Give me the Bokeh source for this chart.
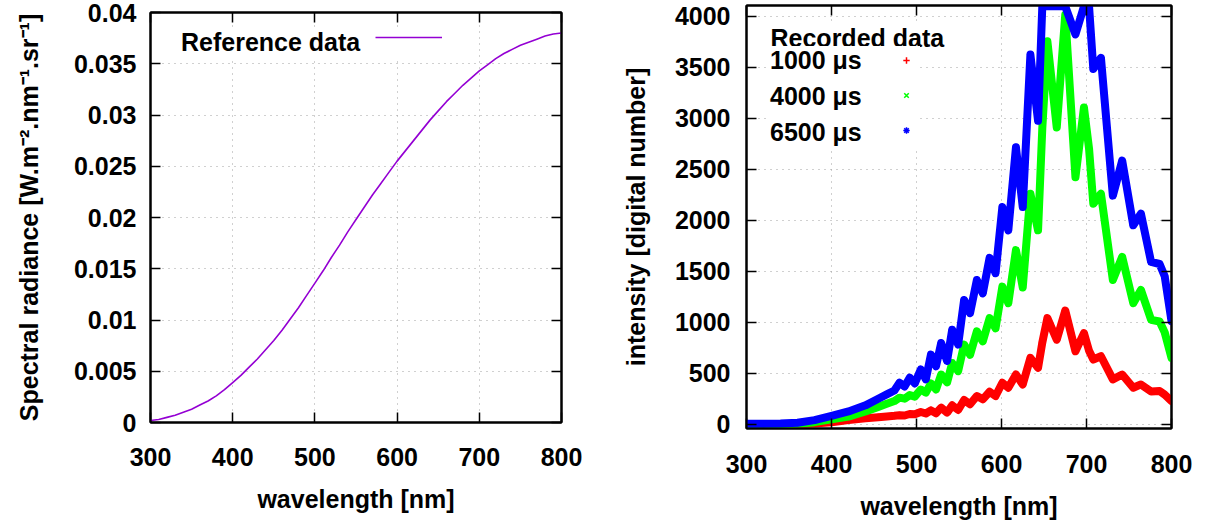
from bokeh.plotting import figure
from bokeh.layouts import row, column
from bokeh.models import (Range1d, LinearAxis, FixedTicker, Legend, LegendItem,
                          CustomJSTickFormatter, Label)
from bokeh.embed import file_html
from bokeh.resources import INLINE

FONT = "Liberation Sans"
FS = "25px"

# ---------------- data ----------------
x_ticks = [300, 400, 500, 600, 700, 800]
left_y_ticks = [0, 0.005, 0.01, 0.015, 0.02, 0.025, 0.03, 0.035, 0.04]
left_y_tick_labels = ["0", "0.005", "0.01", "0.015", "0.02", "0.025", "0.03", "0.035", "0.04"]
right_y_ticks = [0, 500, 1000, 1500, 2000, 2500, 3000, 3500, 4000]

ref_wavelength = [300, 310, 320, 330, 340, 350, 360, 370, 380, 390, 400, 410, 420, 430,
                  440, 450, 460, 470, 480, 490, 500, 510, 520, 530, 540, 550, 560, 570,
                  580, 590, 600, 610, 620, 630, 640, 650, 660, 670, 680, 690, 700, 710,
                  720, 730, 740, 750, 760, 770, 780, 790, 800]
ref_radiance = [0.0002, 0.0003, 0.0005, 0.0007, 0.0010, 0.0013, 0.0017, 0.0021, 0.0026,
                0.0032, 0.0039, 0.0046, 0.0054, 0.0062, 0.0071, 0.0080, 0.0090, 0.0101,
                0.0112, 0.0124, 0.0136, 0.0148, 0.0161, 0.0173, 0.0186, 0.0198, 0.0210,
                0.0222, 0.0233, 0.0244, 0.0255, 0.0265, 0.0275, 0.0285, 0.0295, 0.0304,
                0.0313, 0.0321, 0.0329, 0.0336, 0.0343, 0.0349, 0.0355, 0.0360, 0.0364,
                0.0368, 0.0371, 0.0374, 0.0377, 0.0379, 0.0380]

rec_wavelength = [300, 320, 340, 360, 380, 400, 420, 440, 455, 465, 474, 480, 486,
                  492, 498, 505, 511, 517, 523, 529, 536, 542, 549, 556, 563, 571,
                  578, 586, 593, 601, 608, 617, 625, 634, 643, 648, 654, 665, 675,
                  687, 697, 703, 708, 717, 731, 742, 755, 764, 776, 786, 792, 800]
rec_1000us = [0, 0, 0, 2, 8, 20, 40, 58, 68, 76, 82, 88, 85,
              100, 98, 120, 105, 136, 107, 162, 114, 185, 140, 237, 195, 276,
              244, 318, 276, 406, 357, 487, 390, 650, 552, 800, 1040, 828, 1114,
              715, 893, 720, 634, 666, 439, 487, 357, 390, 320, 325, 290, 227]
rec_4000us = [0, 0, 2, 5, 20, 49, 75, 125, 170, 200, 227, 260, 250,
              285, 270, 340, 310, 400, 340, 487, 410, 600, 520, 780, 680, 910,
              812, 1040, 940, 1348, 1186, 1706, 1340, 2258, 1900, 2900, 3752, 2908, 4012,
              2420, 3103, 2700, 2160, 2258, 1413, 1640, 1186, 1316, 1023, 1007, 900, 650]
rec_6500us = [5, 5, 8, 15, 40, 81, 125, 185, 250, 292, 330, 406, 370,
              455, 400, 536, 440, 682, 568, 796, 620, 926, 780, 1218, 1088, 1413,
              1283, 1630, 1480, 2128, 1900, 2713, 2128, 3622, 2973, 4095, 4095, 4095, 4095,
              3820, 4095, 4095, 3480, 3590, 2240, 2583, 1950, 2063, 1590, 1570, 1450, 1010]

GRID_COLOR = "#a0a0a0"


def style(p, yticks, overrides=None, ylabel="", y_standoff=14, ylabel_standoff=28,
          x_standoff=25, xlabel_standoff=16):
    p.outline_line_color = "black"
    p.outline_line_width = 2
    p.background_fill_color = "white"
    p.border_fill_color = "white"
    for ax, ticks in ((p.xaxis[0], x_ticks), (p.yaxis[0], yticks)):
        ax.ticker = FixedTicker(ticks=ticks)
        ax.major_tick_in = 10
        ax.major_tick_out = 0
        ax.minor_tick_line_color = None
        ax.major_tick_line_color = "black"
        ax.major_tick_line_width = 1.5
        ax.axis_line_color = "black"
        ax.axis_line_width = 2
        ax.major_label_text_font = FONT
        ax.major_label_text_font_size = FS
        ax.major_label_text_font_style = "bold"
        ax.major_label_text_color = "black"
        ax.axis_label_text_font = FONT
        ax.axis_label_text_font_size = FS
        ax.axis_label_text_font_style = "bold"
        ax.axis_label_text_color = "black"
    p.xaxis[0].axis_label = "wavelength [nm]"
    p.xaxis[0].major_label_standoff = x_standoff
    p.xaxis[0].axis_label_standoff = xlabel_standoff
    p.yaxis[0].axis_label = ylabel
    p.yaxis[0].major_label_standoff = y_standoff
    p.yaxis[0].axis_label_standoff = ylabel_standoff
    if overrides:
        p.yaxis[0].major_label_overrides = overrides
    # mirrored ticks on top and right
    for loc, ticks in (("above", x_ticks), ("right", yticks)):
        ax = LinearAxis(ticker=FixedTicker(ticks=ticks),
                        formatter=CustomJSTickFormatter(code="return ''"))
        ax.major_tick_in = 10
        ax.major_tick_out = 0
        ax.minor_tick_line_color = None
        ax.major_tick_line_color = "black"
        ax.major_tick_line_width = 1.5
        ax.axis_line_color = "black"
        ax.axis_line_width = 2
        ax.major_label_text_font_size = "0px"
        ax.major_label_standoff = 0
        p.add_layout(ax, loc)
    for g, ticks in ((p.xgrid[0], x_ticks), (p.ygrid[0], yticks)):
        g.ticker = FixedTicker(ticks=ticks)
        g.grid_line_color = GRID_COLOR
        g.grid_line_dash = "1 5"
        g.grid_line_width = 1


# ---------------- left plot ----------------
p1 = figure(width=600, height=522, x_range=Range1d(300, 800), y_range=Range1d(0, 0.04),
            output_backend="svg", toolbar_location=None,
            min_border_left=150, min_border_right=39, min_border_top=12, min_border_bottom=100)
style(p1, left_y_ticks, dict(zip(left_y_ticks, left_y_tick_labels)),
      ylabel="Spectral radiance [W.m\u207b\u00b2.nm\u207b\u00b9.sr\u207b\u00b9]",
      y_standoff=14, ylabel_standoff=28, x_standoff=25, xlabel_standoff=16)

r_ref = p1.line(ref_wavelength, ref_radiance, line_color="#9400d3", line_width=1.6)

leg1a = Legend(items=[LegendItem(label="Reference data", renderers=[r_ref])],
               location=(8, 365), glyph_width=0, glyph_height=28, label_height=28,
               label_width=275, label_standoff=23, padding=5, margin=0,
               label_text_font=FONT, label_text_font_size=FS, label_text_font_style="bold",
               label_text_color="black",
               background_fill_color="white", background_fill_alpha=1.0,
               border_line_color=None)
leg1b = Legend(items=[LegendItem(label="", renderers=[r_ref])],
               location=(225, 371), glyph_width=67, glyph_height=28, label_height=28,
               label_width=0, label_standoff=0, padding=0, margin=0,
               label_text_font=FONT, label_text_font_size=FS,
               background_fill_alpha=0.0, border_line_color=None)
p1.add_layout(leg1a)
p1.add_layout(leg1b)

# ---------------- right plot ----------------
p2 = figure(width=605, height=522, x_range=Range1d(300, 800), y_range=Range1d(-42, 4103),
            output_backend="svg", toolbar_location=None,
            min_border_left=146, min_border_right=34, min_border_top=5, min_border_bottom=93)
style(p2, right_y_ticks, None, ylabel="intensity [digital number]",
      y_standoff=16, ylabel_standoff=22, x_standoff=26, xlabel_standoff=16)

series = [(rec_1000us, "#ff0000", "cross", "1000 \u03bcs"),
          (rec_4000us, "#00ff00", "x", "4000 \u03bcs"),
          (rec_6500us, "#0000ff", "asterisk", "6500 \u03bcs")]
marks = []
for vals, col, mk, lab in series:
    p2.line(rec_wavelength, vals, line_color=col, line_width=8,
            line_join="round", line_cap="round")
    m = p2.scatter(rec_wavelength, vals, marker=mk, size=7, line_color=col,
                   line_width=1.5, fill_color=col)
    marks.append((m, lab))

legend_title = Label(x=300, y=4103, x_units="data", y_units="data", x_offset=24, y_offset=-32,
                     text="Recorded data", text_font=FONT, text_font_size=FS,
                     text_font_style="bold", text_color="black",
                     text_align="left", text_baseline="middle",
                     background_fill_color="white", background_fill_alpha=1.0)
p2.add_layout(legend_title)

leg2a = Legend(items=[LegendItem(label=lab, renderers=[m]) for m, lab in marks],
               location=(24, 281),
               glyph_width=0, glyph_height=28, label_height=28, label_standoff=0,
               label_width=150,
               spacing=7, padding=0, margin=0,
               label_text_font=FONT, label_text_font_size=FS, label_text_font_style="bold",
               label_text_color="black",
               background_fill_color="white", background_fill_alpha=1.0,
               border_line_color=None)
leg2b = Legend(items=[LegendItem(label="", renderers=[m]) for m, lab in marks],
               location=(152, 284), glyph_width=16, glyph_height=28, label_height=28,
               label_width=0, label_standoff=0, spacing=7, padding=0, margin=0,
               label_text_font=FONT, label_text_font_size=FS,
               background_fill_alpha=0.0, border_line_color=None)
p2.add_layout(leg2a)
p2.add_layout(leg2b)

layout = row(column(p1), column(p2))
open("out.html", "w").write(file_html(layout, INLINE))
